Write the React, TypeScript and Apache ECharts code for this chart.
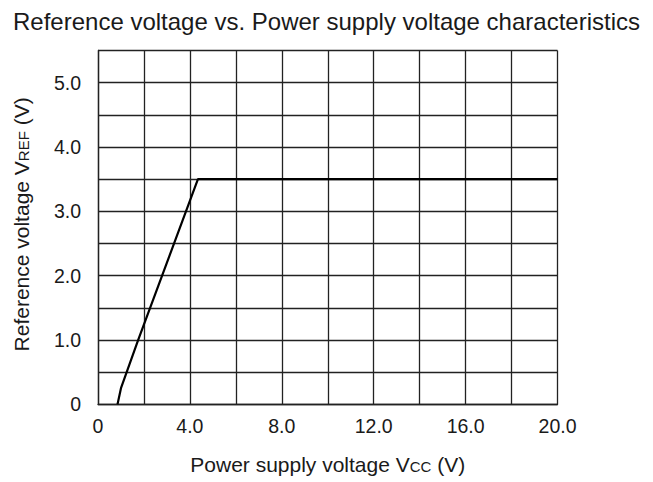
import React, { useEffect, useRef } from "react";
import * as echarts from "echarts";

const vccValues = [0.85, 1.0, 1.75, 4.35, 20];
const vrefValues = [0, 0.25, 1.0, 3.5, 3.5];
const xTicks = [0, 4, 8, 12, 16, 20];
const yTicks = [0, 1, 2, 3, 4, 5];

const FONT = "'Liberation Sans', Arial, sans-serif";

export default function App() {
  const ref = useRef<HTMLDivElement>(null);
  useEffect(() => {
    document.body.style.margin = "0";
    const chart = echarts.init(ref.current!, null, { renderer: "svg" });
    const data = vccValues.map((x, i) => [x, vrefValues[i]]);
    const sub = { fontFamily: FONT, fontSize: 15, color: "#1a1a1a", padding: [3, 0, 0, 0] };
    chart.setOption({
      animation: false,
      backgroundColor: "#ffffff",
      textStyle: { fontFamily: FONT },
      title: {
        text: "Reference voltage vs. Power supply voltage characteristics",
        left: "center",
        top: 4,
        textStyle: { fontFamily: FONT, fontSize: 24, fontWeight: "normal", color: "#1a1a1a" },
      },
      grid: { left: 98, right: 95.5, top: 50.5, bottom: 77.7, containLabel: false },
      xAxis: {
        type: "value",
        min: 0,
        max: 20,
        interval: 2,
        name: "Power supply voltage V{s|CC} (V)",
        nameLocation: "middle",
        nameGap: 50,
        nameTextStyle: { fontFamily: FONT, fontSize: 21, color: "#1a1a1a", rich: { s: sub } },
        axisLine: { show: true, lineStyle: { color: "#222", width: 1.3 } },
        axisTick: { show: false },
        splitLine: { show: true, lineStyle: { color: "#222", width: 1.3 } },
        axisLabel: {
          margin: 12,
          fontFamily: FONT,
          fontSize: 19.5,
          color: "#1a1a1a",
          formatter: (v: number) =>
            xTicks.includes(v) ? (v === 0 ? "0" : v.toFixed(1)) : "",
        },
      },
      yAxis: {
        type: "value",
        min: 0,
        max: 5.5,
        interval: 0.5,
        name: "Reference voltage V{s|REF} (V)",
        nameLocation: "middle",
        nameRotate: 90,
        nameGap: 66,
        nameTextStyle: {
          fontFamily: FONT,
          fontSize: 21,
          color: "#1a1a1a",
          padding: [0, 0, 0, 6],
          rich: { s: sub },
        },
        axisLine: { show: true, lineStyle: { color: "#222", width: 1.3 } },
        axisTick: { show: false },
        splitLine: { show: true, lineStyle: { color: "#222", width: 1.3 } },
        axisLabel: {
          margin: 17,
          fontFamily: FONT,
          fontSize: 19.5,
          color: "#1a1a1a",
          formatter: (v: number) =>
            yTicks.includes(v) ? (v === 0 ? "0" : v.toFixed(1)) : "",
        },
      },
      series: [
        {
          type: "line",
          data,
          showSymbol: false,
          symbol: "none",
          lineStyle: { color: "#000", width: 2.2 },
          z: 5,
        },
      ],
    });
    return () => chart.dispose();
  }, []);
  return <div ref={ref} style={{ width: 653, height: 482 }} />;
}
